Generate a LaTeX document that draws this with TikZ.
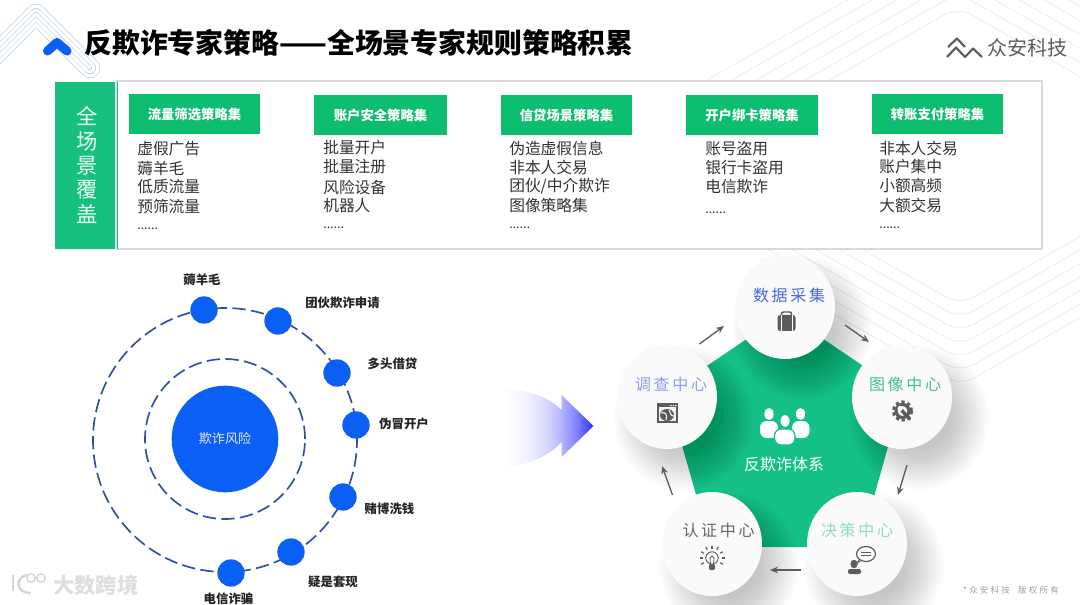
\documentclass[tikz,border=0pt]{standalone}
\usepackage{fontspec}
\setmainfont{Noto Sans CJK SC}
\usetikzlibrary{arrows.meta,shapes.geometric,calc}
\definecolor{grn}{HTML}{0DBD70}
\definecolor{side}{HTML}{17C07F}
\definecolor{penta}{HTML}{15C084}
\definecolor{dot}{HTML}{0A5FF5}
\definecolor{orbit}{HTML}{2E4FA8}
\definecolor{deco}{HTML}{A9C4EE}
\definecolor{bgl}{HTML}{E7EEF8}
\definecolor{ink}{HTML}{333333}
\definecolor{icon}{HTML}{5C5C5C}
\definecolor{tone1}{HTML}{4A66E0}
\definecolor{tone2}{HTML}{3FBF98}
\definecolor{tone3}{HTML}{8FDDBE}
\definecolor{tone4}{HTML}{666666}
\definecolor{tone5}{HTML}{8C9EEF}
\pgfdeclarehorizontalshading{bigarrow}{100bp}{color(0bp)=(white); color(27bp)=(white); color(40bp)=(blue!6!white); color(50bp)=(blue!16!white); color(58bp)=(blue!30!white); color(66bp)=(blue!50!white); color(75bp)=(blue!82!white); color(100bp)=(blue!82!white)}
\tikzset{
 header/.style={fill=grn,text=white,font=\fontsize{10}{12}\selectfont\bfseries,minimum height=30pt,inner sep=0pt},
 item/.style={anchor=west,text=ink,font=\fontsize{11.8}{13}\selectfont,inner sep=0pt},
 orbitline/.style={circle,draw=orbit,line width=1.25pt,dash pattern=on 10pt off 4pt,inner sep=0pt},
 odot/.style={circle,fill=dot,minimum size=20.5pt,inner sep=0pt},
 olabel/.style={text=ink!70!black,font=\fontsize{9.3}{11}\selectfont\bfseries,inner sep=0pt},
 hub/.style={ellipse,fill=black!2,minimum width=75pt,minimum height=78pt,inner sep=0pt},
 hubtext/.style={font=\fontsize{12}{14}\selectfont,inner sep=0pt},
 flow/.style={draw=icon,line width=1pt,-{Stealth[length=6pt,width=5pt]}},
 bgline/.style={draw=bgl,line width=.7pt,rounded corners=12pt},
}
\newcommand{\sixdots}{{\fontsize{9.4}{11}\selectfont ......}}
\newcommand{\collist}[3]{\foreach \txt/\yy [count=\ii] in {#3}{\node[item] (#1\ii) at (#2,\yy) {\txt};}}
\newcommand{\hubshadow}[2]{\foreach \rr in {30,32,...,70}{\fill[black,opacity=.0125] (#1+17,#2+21) ellipse ({\rr} and {\rr+2});}}
\begin{document}
\begin{tikzpicture}[x=.75pt,y=-.75pt]
\useasboundingbox (0,0) rectangle (1080,605);
\begin{scope}
\clip (0,0) rectangle (1080,605);
% faint background chevrons
\foreach \k in {0,...,5}{
 \draw[bgline] (700,{7-14*\k+0.57*258}) -- (958,{7-14*\k}) -- (1240,{7-14*\k+0.57*282});
}
\foreach \k in {0,...,6}{
 \draw[bgline] (760,{305+13.5*\k-0.57*200}) -- (960,{305+13.5*\k}) -- (1180,{305+13.5*\k-0.57*220});
}
% top-left decoration
\foreach \w in {20,12,4}{
 \draw[deco,line width=\w*.75pt,line join=round,line cap=round] (-16,66) -- (36,14) -- (90,68);
 \draw[white,line width=\w*.75pt-.75pt,line join=round,line cap=round] (-16,66) -- (36,14) -- (90,68);
}
\end{scope}
\draw[dot,line width=6.8pt,line join=round,line cap=round] (47.5,51) -- (57,42.5) -- (67,51);
% title
\node[anchor=west,inner sep=0pt,font=\fontsize{20.9}{24}\selectfont\bfseries] (title) at (84,43) {反欺诈专家策略——全场景专家规则策略积累};
% brand
\draw[icon,line width=1.6pt,line join=round] (948,47) -- (957,38.5) -- (965,47);
\draw[icon,line width=1.6pt,line join=round] (947,57) -- (956,47.5) -- (965,57) -- (973,48.5) -- (982,57);
\node[anchor=west,inner sep=0pt,text=icon,font=\fontsize{15}{17}\selectfont] (brand) at (987,48) {众安科技};
% frame
\node[draw=black!15,line width=1.1pt,fill=white,minimum width=693.75pt,minimum height=126pt,inner sep=0pt] (frame) at (579.5,165) {};
\fill[side] (55,82) rectangle (115,249);
\fill[side] (116.5,82) rectangle (118,249);
\node[inner sep=0pt,text=white!92!green,align=center,font=\fontsize{16}{18.2}\selectfont] (cover) at (87,165) {全\\场\\景\\覆\\盖};
% headers
\node[header,minimum width=98.25pt] (h1) at (194.5,114.5) {流量筛选策略集};
\node[header,minimum width=99.75pt] (h2) at (380.5,115) {账户安全策略集};
\node[header,minimum width=98.25pt] (h3) at (566.5,115) {信贷场景策略集};
\node[header,minimum width=99pt] (h4) at (752,115) {开户绑卡策略集};
\node[header,minimum width=98.25pt] (h5) at (937.5,114) {转账支付策略集};
% lists
\collist{a}{137}{虚假广告/149,薅羊毛/168,低质流量/187,预筛流量/206,\sixdots/229}
\collist{b}{323}{批量开户/148,批量注册/167,风险设备/187,机器人/206,\sixdots/228}
\collist{c}{509}{伪造虚假信息/148,非本人交易/167,{团伙/中介欺诈}/186,图像策略集/205,\sixdots/228}
\collist{d}{705}{账号盗用/149,银行卡盗用/168,电信欺诈/187,\sixdots/213}
\collist{e}{879}{非本人交易/148,账户集中/167,小额高频/186,大额交易/205,\sixdots/228}
% orbit
\node[orbitline,minimum size=198pt] (outer) at (225,440) {};
\node[orbitline,minimum size=120pt] (inner) at (225,439) {};
\node[circle,fill=dot,minimum size=80pt,inner sep=0pt,text=white!90!blue,font=\fontsize{9.8}{12}\selectfont] (core) at (225,439) {欺诈风险};
\node[odot] (o1) at (204,310) {};
\node[odot] (o2) at (278,321) {};
\node[odot] (o3) at (337,373) {};
\node[odot] (o4) at (356,425) {};
\node[odot] (o5) at (343,497) {};
\node[odot] (o6) at (291,552) {};
\node[odot] (o7) at (231,573) {};
\node[olabel] (t1) at (202,280) {薅羊毛};
\node[olabel] (t2) at (342.5,303) {团伙欺诈申请};
\node[olabel] (t3) at (392.5,364) {多头借贷};
\node[olabel] (t4) at (404,424) {伪冒开户};
\node[olabel] (t5) at (389.5,509) {赌博洗钱};
\node[olabel] (t6) at (333,582) {疑是套现};
\node[olabel] (t7) at (228.5,599) {电信诈骗};
% watermark
\begin{scope}[draw=black!16,line width=1.9pt]
\draw (13,575) -- (13,591);
\draw (27,575) .. controls (15,577) and (15,593) .. (31,593);
\draw[line width=1.1pt] (31,578) circle (4.2);
\draw[line width=1.1pt] (41,578) circle (4.2);
\end{scope}
\node[anchor=west,inner sep=0pt,text=black!13,font=\fontsize{16}{18}\selectfont\bfseries] (mark) at (53,585) {大数跨境};
% big arrow
\shade[shading=bigarrow] (501,388) .. controls (530,390) and (550,398) .. (561.5,410) -- (561.5,395) -- (593.5,426) -- (561.5,457) -- (561.5,442) .. controls (550,455) and (530,465) .. (501,468) -- cycle;
% pentagon
\fill[penta] (785,313) -- (903,393) -- (860,547) -- (711,547) -- (667,393) -- cycle;
% shadows
\hubshadow{785}{307}
\hubshadow{902}{397}
\hubshadow{667}{397}
\hubshadow{712}{544}
\hubshadow{857}{544}
% hubs
\node[hub] (n1) at (785,307) {};
\node[hub] (n2) at (902,397) {};
\node[hub] (n3) at (857,544) {};
\node[hub] (n4) at (712,544) {};
\node[hub] (n5) at (667,397) {};
\node[hubtext,text=tone1] (l1) at (789,295) {数\kern2pt 据\kern2pt 采\kern2pt 集};
\node[hubtext,text=tone2] (l2) at (905,384) {图\kern2pt 像\kern2pt 中\kern2pt 心};
\node[hubtext,text=tone3] (l3) at (857,530) {决\kern2pt 策\kern2pt 中\kern2pt 心};
\node[hubtext,text=tone4] (l4) at (718.5,530) {认\kern2pt 证\kern2pt 中\kern2pt 心};
\node[hubtext,text=tone5] (l5) at (671,384) {调\kern2pt 查\kern2pt 中\kern2pt 心};
% flow arrows
\coordinate (f1a) at (845,325); \coordinate (f1b) at (869,342);
\coordinate (f2a) at (907,465); \coordinate (f2b) at (898,495);
\coordinate (f3a) at (800.5,570); \coordinate (f3b) at (770,570);
\coordinate (f4a) at (672.5,495); \coordinate (f4b) at (662,466);
\coordinate (f5a) at (699.5,344); \coordinate (f5b) at (724,326);
\draw[flow] (f1a) -- (f1b);
\draw[flow] (f2a) -- (f2b);
\draw[flow] (f3a) -- (f3b);
\draw[flow] (f4a) -- (f4b);
\draw[flow] (f5a) -- (f5b);
% briefcase
\begin{scope}[shift={(786.5,322)}]
\draw[icon,line width=1.1pt,rounded corners=1.5pt] (-5,-7) -- (-5,-10) -- (5,-10) -- (5,-7);
\fill[icon,rounded corners=2pt] (-9,-7) rectangle (9,9);
\draw[white,line width=.5pt] (-5.5,-7) -- (-5.5,9) (5.5,-7) -- (5.5,9);
\end{scope}
% gear
\begin{scope}[shift={(902.5,411)}]
\draw[icon,line width=2.4pt,dash pattern=on 2.4pt off 2pt] (0,0) circle (9);
\draw[icon,line width=2.4pt] (0,0) circle (6.5);
\draw[icon,line width=2.6pt,line cap=round] (-1,-1) -- (7,8);
\fill[black!2] (-2.5,-2.5) circle (2.6);
\end{scope}
% browser
\begin{scope}[shift={(667,413)}]
\fill[icon] (-10.5,-10) rectangle (10.5,10);
\fill[black!6] (-8.5,-6) rectangle (8.5,8);
\fill[icon] (0,2) ellipse (7 and 6);
\draw[black!6,line width=.8pt] (-6,0) .. controls (-2,-2) and (1,2) .. (-1,7);
\draw[black!6,line width=.8pt] (2,-3) .. controls (4,0) and (3,3) .. (7,3);
\fill[white] (3,-8) rectangle (4.5,-7) (5.5,-8) rectangle (7,-7) (8,-8) rectangle (9.5,-7);
\end{scope}
% bulb
\begin{scope}[shift={(712,560)}]
\draw[icon,line width=.7pt,fill=black!2] (0,-2) circle (6.2);
\fill[icon,rounded corners=1pt] (-3,4) rectangle (3,10);
\draw[icon,line width=.6pt] (-1.5,4) -- (-2,-2) -- (0,-4) -- (2,-2) -- (1.5,4);
\foreach \ang in {0,180,30,150,60,120,90,210,330}{
 \draw[icon,line width=.9pt] ($(0,-2)+(\ang:-9.5)$) -- ($(0,-2)+(\ang:-12.5)$);
}
\end{scope}
% person and bubble
\begin{scope}[shift={(860,560)}]
\fill[icon] (-6,4) ellipse (3.6 and 4.3);
\fill[icon,rounded corners=1.5pt] (-12,9) rectangle (1,14);
\draw[icon,line width=.9pt,fill=black!2] (6,-6) ellipse (9.5 and 7.5);
\fill[icon] (-2,0) -- (-3,4) -- (1,1) -- cycle;
\draw[icon,line width=.9pt] (1,-7.5) -- (11,-7.5) (1,-4.5) -- (11,-4.5);
\end{scope}
% centre people
\fill[white] (769,414) ellipse (4.6 and 6);
\fill[white] (800.5,414) ellipse (4.6 and 6);
\fill[white,rounded corners=5pt] (760,438) -- (760,421) -- (778,421) -- (778,438) -- cycle;
\fill[white,rounded corners=5pt] (792,438) -- (792,421) -- (809.5,421) -- (809.5,438) -- cycle;
\draw[penta,line width=.9pt,fill=white] (785,421) ellipse (5.2 and 6.6);
\draw[penta,line width=.9pt,fill=white,rounded corners=5pt] (774.5,445) -- (774.5,429) -- (795,429) -- (795,445) -- cycle;
\node[inner sep=0pt,text=white,font=\fontsize{12}{14}\selectfont] (sys) at (784,464) {反欺诈体系};
% copyright
\node[inner sep=0pt,text=black!38,font=\fontsize{6.4}{8}\selectfont] (copy) at (1011,590) {*\kern1.5pt 众\kern1.7pt 安\kern1.7pt 科\kern1.7pt 技\kern6pt 版\kern1.7pt 权\kern1.7pt 所\kern1.7pt 有};
\end{tikzpicture}
\end{document}
